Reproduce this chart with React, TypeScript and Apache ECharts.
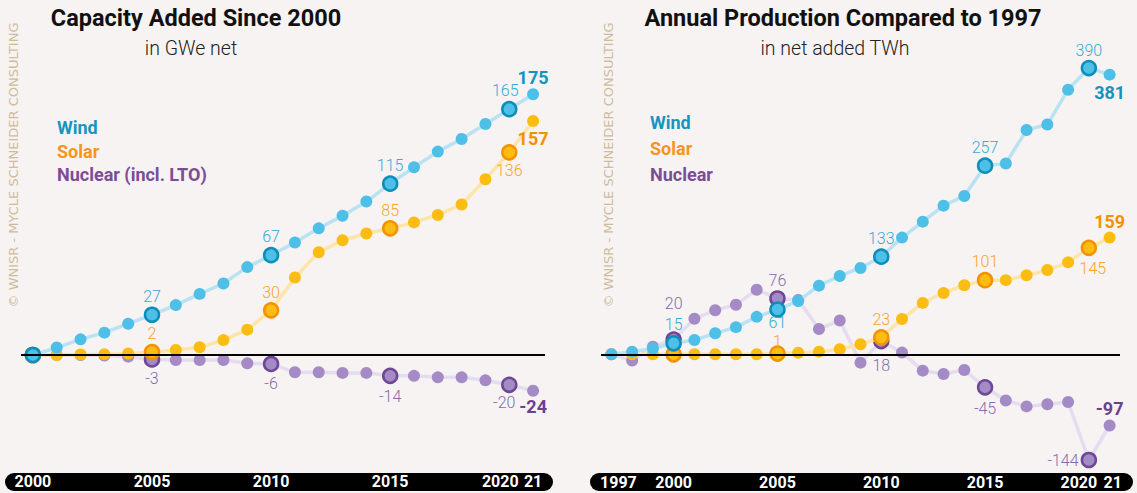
import React, { useEffect, useRef } from 'react';
import * as echarts from 'echarts';

// ---------- DATA ----------
const leftYears = ['2000','2001','2002','2003','2004','2005','2006','2007','2008','2009','2010','2011','2012','2013','2014','2015','2016','2017','2018','2019','2020','2021'];
const leftWind = [0, 5, 10.5, 15, 21, 27, 33.5, 41, 48, 59, 67, 75.5, 85, 93.5, 103, 115, 126, 136.5, 145, 155, 165, 175];
const leftSolar = [0, 0, 0.3, 0.5, 1, 2, 3.4, 5.2, 10, 17, 30, 52, 69, 77, 81.5, 85, 89, 94, 101, 118, 136, 157];
const leftNuclear = [0, 0, 0, -0.4, -1.1, -3, -3.4, -3.4, -3.4, -5.6, -6, -11.6, -11.6, -12, -12, -14, -14, -15, -15, -17, -20, -24];
const leftTicks = ['2000', '2005', '2010', '2015', '2020', '2021'];

const rightYears = ['1997','1998','1999','2000','2001','2002','2003','2004','2005','2006','2007','2008','2009','2010','2011','2012','2013','2014','2015','2016','2017','2018','2019','2020','2021'];
const rightWind = [0, 3.6, 8, 15, 19.5, 28.6, 37, 51, 61, 72.6, 93.5, 106.7, 117.6, 133, 159, 180.7, 202.5, 215.7, 257, 260, 305.6, 313, 360.5, 390, 381];
const rightSolar = [0, 0, 0, 0, 0, 0, 0, 0, 1, 2.2, 3.6, 6.8, 13.6, 23, 48, 70, 83.5, 94, 101, 101, 107.6, 114.8, 125.3, 145, 159];
const rightNuclear = [0, -8.6, 10.4, 20, 48.5, 60, 67.6, 88, 76, 74, 34.5, 46, -11.4, 18, 2.3, -22.3, -26.8, -21.4, -45, -63, -71, -68, -65, -144, -97];
const rightTicks = ['1997', '2000', '2005', '2010', '2015', '2020', '2021'];

const highlightYears = ['2000', '2005', '2010', '2015', '2020'];

// ---------- STYLE ----------
const FONT = 'Roboto, "Noto Sans", sans-serif';
const BG = '#f7f3f2';
const C = {
  wind: { pt: '#4ec0e8', ring: '#0b8fb9', line: '#b9e2f3', lbl: '#37a9d6', bold: '#1493bf', legend: '#1595bf' },
  solar: { pt: '#fbbd12', ring: '#f39200', line: '#fde4a9', lbl: '#f6a42e', bold: '#f39200', legend: '#f7941d' },
  nuclear: { pt: '#a48bc6', ring: '#6e4796', line: '#e4ddef', lbl: '#8a6aab', bold: '#6b3f91', legend: '#7a4d96' },
};

type LblSpec = { pos: string; dist?: number; bold?: boolean; off?: [number, number] };

const leftLabels: Record<string, Record<string, LblSpec>> = {
  wind: { '2005': { pos: 'top' }, '2010': { pos: 'top' }, '2015': { pos: 'top' }, '2020': { pos: 'top', off: [-4, 0] }, '2021': { pos: 'top', bold: true } },
  solar: { '2005': { pos: 'top' }, '2010': { pos: 'top' }, '2015': { pos: 'top' }, '2020': { pos: 'bottom' }, '2021': { pos: 'bottom', bold: true } },
  nuclear: { '2005': { pos: 'bottom', dist: 3 }, '2010': { pos: 'bottom', dist: 3 }, '2015': { pos: 'bottom', dist: 4 }, '2020': { pos: 'bottom', dist: 1, off: [-5, 0] }, '2021': { pos: 'bottom', dist: 1, bold: true } },
};
const rightLabels: Record<string, Record<string, LblSpec>> = {
  wind: { '2000': { pos: 'top', dist: 3 }, '2005': { pos: 'bottom', dist: -3 }, '2010': { pos: 'top' }, '2015': { pos: 'top' }, '2020': { pos: 'top', dist: 1 }, '2021': { pos: 'bottom', dist: 3, bold: true } },
  solar: { '2005': { pos: 'top', dist: -2, off: [0, 2] }, '2010': { pos: 'top' }, '2015': { pos: 'top' }, '2020': { pos: 'bottom', dist: 4, off: [4, 0] }, '2021': { pos: 'top', dist: 1, bold: true } },
  nuclear: { '2000': { pos: 'top', dist: 20 }, '2005': { pos: 'top' }, '2010': { pos: 'bottom', dist: 8 }, '2015': { pos: 'bottom', dist: 5 }, '2020': { pos: 'left', dist: 2 }, '2021': { pos: 'top', dist: 2, bold: true } },
};

function makeSeries(key: 'wind' | 'solar' | 'nuclear', values: number[], years: string[], labels: Record<string, LblSpec>, idx: number, z: number) {
  const col = C[key];
  const data = values.map((v, i) => {
    const y = years[i];
    const item: any = { value: v };
    if (highlightYears.includes(y)) {
      item.symbolSize = 14;
      item.itemStyle = { color: col.pt, borderColor: col.ring, borderWidth: 2.5 };
    }
    const spec = labels[y];
    if (spec) {
      item.label = {
        show: true,
        position: spec.pos,
        distance: spec.dist ?? 2,
        offset: spec.off ?? [0, 0],
        color: spec.bold ? col.bold : col.lbl,
        fontWeight: spec.bold ? 'bold' : 300,
        fontSize: spec.bold ? 18 : 16,
        fontFamily: FONT,
        formatter: () => String(Math.round(v)),
      };
    }
    return item;
  });
  return {
    type: 'line',
    name: key,
    xAxisIndex: idx,
    yAxisIndex: idx,
    data,
    symbol: 'circle',
    symbolSize: 12,
    showSymbol: true,
    clip: false,
    z,
    itemStyle: { color: col.pt, borderWidth: 0 },
    lineStyle: { color: col.line, width: 3.5 },
    label: { show: false },
    emphasis: { disabled: true },
  };
}

function tickAxis(years: string[], ticks: string[], idx: number, pads: Record<string, number[]>) {
  const rich: any = {};
  Object.keys(pads).forEach((k) => {
    rich['p' + k] = { padding: pads[k], color: '#fff', fontWeight: 'bold', fontSize: 16, fontFamily: FONT };
  });
  return {
    type: 'category',
    gridIndex: idx,
    data: years,
    boundaryGap: true,
    axisLine: { show: false, onZero: false },
    axisTick: { show: false },
    splitLine: { show: false },
    axisLabel: {
      interval: (_i: number, v: string) => ticks.includes(v),
      color: '#fff',
      fontWeight: 'bold',
      fontSize: 16,
      fontFamily: FONT,
      margin: 14,
      formatter: (v: string) => {
        const txt = v === '2021' ? '21' : v;
        return pads[v] ? `{p${v}|${txt}}` : txt;
      },
      rich,
    },
  };
}

function zeroLine(idx: number) {
  return {
    type: 'line',
    xAxisIndex: idx,
    yAxisIndex: idx,
    data: [],
    z: 1,
    markLine: {
      silent: true,
      symbol: ['none', 'none'],
      label: { show: false },
      lineStyle: { color: '#000', width: 2, type: 'solid' },
      data: [{ yAxis: 0 }],
    },
  };
}

const WATERMARK = '© WNISR - MYCLE SCHNEIDER CONSULTING';

export default function App() {
  const ref = useRef<HTMLDivElement>(null);
  useEffect(() => {
    if (!ref.current) return;
    const chart = echarts.init(ref.current, null, { renderer: 'svg' });
    const text = (x: number, y: number, t: string, style: any, extra: any = {}) => ({
      type: 'text', x, y, ...extra,
      style: { text: t, fontFamily: FONT, ...style },
    });
    chart.setOption({
      animation: false,
      backgroundColor: BG,
      grid: [
        { left: 21, width: 524, top: 57, height: 402.3 },
        { left: 601, width: 519, top: 60.7, height: 399.3 },
      ],
      xAxis: [
        tickAxis(leftYears, leftTicks, 0, { '2020': [0, 18, 0, 0] }),
        tickAxis(rightYears, rightTicks, 1, { '1997': [0, 0, 0, 14], '2020': [0, 20, 0, 0], '2021': [0, 0, 0, 6] }),
      ],
      yAxis: [
        { type: 'value', gridIndex: 0, min: -70, max: 200, show: false, splitLine: { show: false } },
        { type: 'value', gridIndex: 1, min: -144, max: 400, show: false, splitLine: { show: false } },
      ],
      graphic: [
        { type: 'rect', z: -10, shape: { x: 5, y: 473, width: 548, height: 18, r: 9 }, style: { fill: '#000' } },
        { type: 'rect', z: -10, shape: { x: 590, y: 473, width: 543, height: 18, r: 9 }, style: { fill: '#000' } },
        text(196, 6, 'Capacity Added Since 2000', { fontSize: 23.5, fontWeight: 'bold', fill: '#111', align: 'center', verticalAlign: 'top' }),
        text(191, 48, 'in GWe net', { fontSize: 19.5, fontWeight: 300, fill: '#222', align: 'center', verticalAlign: 'middle' }),
        text(843, 6, 'Annual Production Compared to 1997', { fontSize: 23.5, fontWeight: 'bold', fill: '#111', align: 'center', verticalAlign: 'top' }),
        text(835, 48, 'in net added TWh', { fontSize: 19.5, fontWeight: 300, fill: '#222', align: 'center', verticalAlign: 'middle' }),
        text(57, 127, 'Wind', { fontSize: 18, fontWeight: 'bold', fill: C.wind.legend, verticalAlign: 'middle' }),
        text(57, 151, 'Solar', { fontSize: 18, fontWeight: 'bold', fill: C.solar.legend, verticalAlign: 'middle' }),
        text(57, 174, 'Nuclear (incl. LTO)', { fontSize: 18, fontWeight: 'bold', fill: C.nuclear.legend, verticalAlign: 'middle' }),
        text(650, 122, 'Wind', { fontSize: 18, fontWeight: 'bold', fill: C.wind.legend, verticalAlign: 'middle' }),
        text(650, 148, 'Solar', { fontSize: 18, fontWeight: 'bold', fill: C.solar.legend, verticalAlign: 'middle' }),
        text(650, 174, 'Nuclear', { fontSize: 18, fontWeight: 'bold', fill: C.nuclear.legend, verticalAlign: 'middle' }),
        text(13, 165, WATERMARK, { fontSize: 13, fontFamily: '"DejaVu Sans", sans-serif', fill: '#cdbd9c', align: 'center', verticalAlign: 'middle' }, { rotation: Math.PI / 2 }),
        text(608, 165, WATERMARK, { fontSize: 13, fontFamily: '"DejaVu Sans", sans-serif', fill: '#cdbd9c', align: 'center', verticalAlign: 'middle' }, { rotation: Math.PI / 2 }),
      ],
      series: [
        zeroLine(0),
        makeSeries('nuclear', leftNuclear, leftYears, leftLabels.nuclear, 0, 2),
        makeSeries('solar', leftSolar, leftYears, leftLabels.solar, 0, 3),
        makeSeries('wind', leftWind, leftYears, leftLabels.wind, 0, 4),
        zeroLine(1),
        makeSeries('nuclear', rightNuclear, rightYears, rightLabels.nuclear, 1, 2),
        makeSeries('solar', rightSolar, rightYears, rightLabels.solar, 1, 3),
        makeSeries('wind', rightWind, rightYears, rightLabels.wind, 1, 4),
      ],
    });
    return () => chart.dispose();
  }, []);
  return <div ref={ref} style={{ position: 'fixed', left: 0, top: 0, width: 1137, height: 493 }} />;
}
